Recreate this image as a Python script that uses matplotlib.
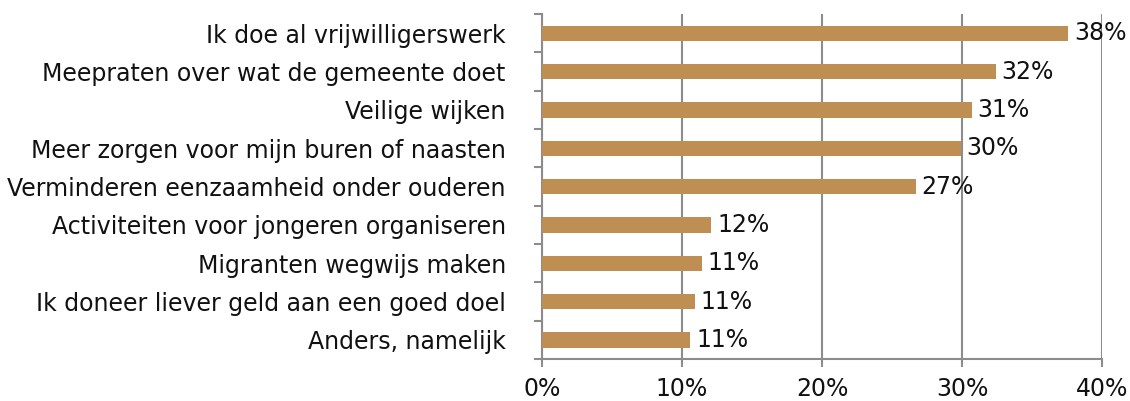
import matplotlib
matplotlib.use("Agg")
import matplotlib.pyplot as plt
from matplotlib.ticker import FuncFormatter

categories = [
    "Ik doe al vrijwilligerswerk",
    "Meepraten over wat de gemeente doet",
    "Veilige wijken",
    "Meer zorgen voor mijn buren of naasten",
    "Verminderen eenzaamheid onder ouderen",
    "Activiteiten voor jongeren organiseren",
    "Migranten wegwijs maken",
    "Ik doneer liever geld aan een goed doel",
    "Anders, namelijk",
]
values = [37.6, 32.4, 30.7, 29.9, 26.7, 12.1, 11.4, 10.9, 10.6]
xticks = [0, 10, 20, 30, 40]

bar_color = "#BE8E52"
grid_color = "#8C8C8C"
text_color = "#111111"
fs = 17

plt.rcParams["font.family"] = ["DejaVu Sans"]

fig = plt.figure(figsize=(11.3, 4.01), dpi=100)
ax = fig.add_axes([0.4796, 0.1047, 0.9752 - 0.4796, 0.965 - 0.1047])

n = len(categories)
ypos = list(range(n))
ax.barh(ypos, values, height=0.4, color=bar_color, zorder=3)
ax.set_ylim(n - 0.5, -0.5)
ax.set_xlim(0, 40)

ax.set_yticks(ypos)
ax.set_yticklabels(categories, fontsize=fs, color=text_color)
ax.set_yticks([i - 0.5 for i in range(n + 1)], minor=True)
ax.tick_params(axis="y", which="major", length=0, pad=26)
ax.tick_params(axis="y", which="minor", length=6, width=1.5, color=grid_color, direction="out")

ax.set_xticks(xticks)
ax.xaxis.set_major_formatter(FuncFormatter(lambda v, p: f"{v:.0f}%"))
ax.tick_params(axis="x", length=6, width=1.5, color=grid_color, labelsize=fs,
               labelcolor=text_color, pad=7)

ax.grid(axis="x", color=grid_color, linewidth=1.5, zorder=0)
for side in ("top", "right"):
    ax.spines[side].set_visible(False)
for side in ("left", "bottom"):
    ax.spines[side].set_color(grid_color)
    ax.spines[side].set_linewidth(1.5)

for y, v in zip(ypos, values):
    ax.text(v + 0.4, y, f"{round(v):.0f}%", va="center", ha="left",
            fontsize=fs, color=text_color, zorder=4)

fig.savefig("out.png", dpi=100)
